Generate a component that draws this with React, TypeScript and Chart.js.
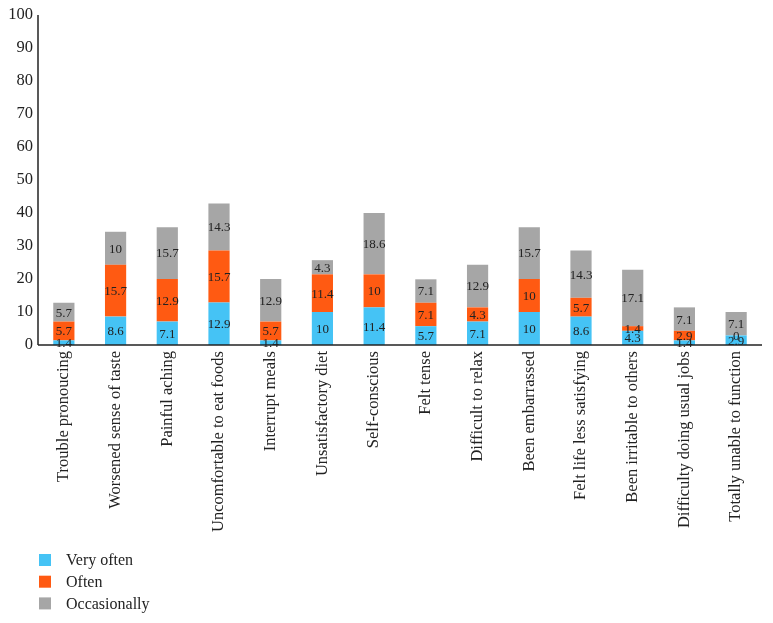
import React, { useEffect, useRef } from "react";
import { Chart, registerables } from "chart.js";

Chart.register(...registerables);

const categories = [
  "Trouble pronoucing",
  "Worsened sense of taste",
  "Painful aching",
  "Uncomfortable to eat foods",
  "Interrupt meals",
  "Unsatisfactory diet",
  "Self-conscious",
  "Felt tense",
  "Difficult to relax",
  "Been embarrassed",
  "Felt life less satisfying",
  "Been irritable to others",
  "Difficulty doing usual jobs",
  "Totally unable to function",
];
const veryOften = [1.4, 8.6, 7.1, 12.9, 1.4, 10, 11.4, 5.7, 7.1, 10, 8.6, 4.3, 1.4, 2.9];
const often = [5.7, 15.7, 12.9, 15.7, 5.7, 11.4, 10, 7.1, 4.3, 10, 5.7, 1.4, 2.9, 0];
const occasionally = [5.7, 10, 15.7, 14.3, 12.9, 4.3, 18.6, 7.1, 12.9, 15.7, 14.3, 17.1, 7.1, 7.1];
const seriesNames = ["Very often", "Often", "Occasionally"];
const seriesColors = ["#45C3F5", "#FF5A12", "#A6A6A6"];
const yTicks = [0, 10, 20, 30, 40, 50, 60, 70, 80, 90, 100];

const FONT = "'Liberation Serif', 'DejaVu Serif', serif";

const axisLines = {
  id: "axisLines",
  afterDatasetsDraw(chart: any) {
    const { ctx, chartArea } = chart;
    ctx.save();
    ctx.lineWidth = 1.5;
    ctx.strokeStyle = "#222";
    ctx.beginPath();
    ctx.moveTo(chartArea.left, chartArea.top);
    ctx.lineTo(chartArea.left, chartArea.bottom);
    ctx.stroke();
    ctx.beginPath();
    ctx.moveTo(chartArea.left, chartArea.bottom);
    ctx.lineTo(chartArea.right, chartArea.bottom);
    ctx.stroke();
    ctx.restore();
  },
};

const valueLabels = {
  id: "valueLabels",
  afterDatasetsDraw(chart: any) {
    const ctx = chart.ctx;
    ctx.save();
    ctx.font = `13px ${FONT}`;
    ctx.fillStyle = "#222";
    ctx.textAlign = "center";
    ctx.textBaseline = "middle";
    chart.data.datasets.forEach((ds: any, di: number) => {
      const meta = chart.getDatasetMeta(di);
      meta.data.forEach((bar: any, i: number) => {
        const v = ds.data[i];
        const yc = (bar.y + bar.base) / 2;
        ctx.fillText(String(v), bar.x, yc + 1);
      });
    });
    ctx.restore();
  },
};

const bottomLegend = {
  id: "bottomLegend",
  afterDraw(chart: any) {
    const ctx = chart.ctx;
    ctx.save();
    ctx.font = `16px ${FONT}`;
    ctx.textBaseline = "middle";
    ctx.textAlign = "left";
    const startY = 560;
    const gap = 21.7;
    chart.data.datasets.forEach((ds: any, i: number) => {
      const y = startY + i * gap;
      ctx.fillStyle = ds.backgroundColor;
      ctx.fillRect(39, y - 6, 12, 12);
      ctx.fillStyle = "#222";
      ctx.fillText(ds.label, 66, y + 1);
    });
    ctx.restore();
  },
};

export default function App() {
  const ref = useRef<HTMLCanvasElement | null>(null);
  useEffect(() => {
    document.body.style.margin = "0";
    const datasets = [veryOften, often, occasionally].map((d, i) => ({
      label: seriesNames[i],
      data: d,
      backgroundColor: seriesColors[i],
      barPercentage: 0.41,
      categoryPercentage: 1,
    }));
    const chart = new Chart(ref.current as HTMLCanvasElement, {
      type: "bar",
      data: { labels: categories, datasets },
      options: {
        animation: false,
        responsive: false,
        maintainAspectRatio: false,
        layout: { padding: { top: 14, right: 11, left: 0, bottom: 0 } },
        plugins: { legend: { display: false }, tooltip: { enabled: false } },
        scales: {
          x: {
            stacked: true,
            grid: { display: false, drawTicks: false },
            border: { display: false },
            ticks: {
              maxRotation: 90,
              minRotation: 90,
              autoSkip: false,
              padding: 6,
              color: "#222",
              font: { family: FONT, size: 16.5 },
            },
            afterFit(scale: any) {
              scale.height = 278;
            },
          },
          y: {
            stacked: true,
            min: 0,
            max: 100,
            grid: { display: false, drawTicks: false },
            border: { display: false },
            afterBuildTicks(scale: any) {
              scale.ticks = yTicks.map((v) => ({ value: v }));
            },
            ticks: {
              padding: 5,
              color: "#222",
              font: { family: FONT, size: 16.5 },
            },
            afterFit(scale: any) {
              scale.width = 38;
            },
          },
        },
      },
      plugins: [axisLines, valueLabels, bottomLegend],
    });
    return () => chart.destroy();
  }, []);
  return (
    <div style={{ width: 773, height: 623, background: "#fff" }}>
      <canvas ref={ref} width={773} height={623} style={{ display: "block" }} />
    </div>
  );
}
